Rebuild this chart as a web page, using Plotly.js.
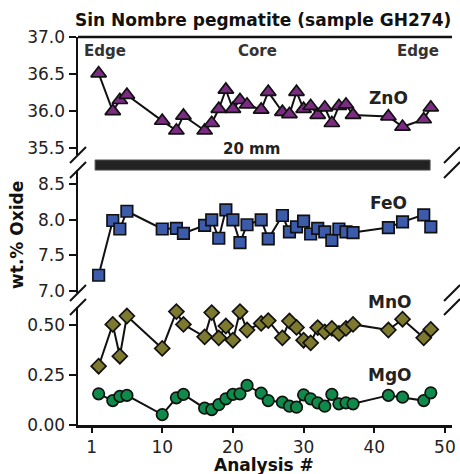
<!DOCTYPE html>
<html>
<head>
<meta charset="utf-8">
<script src="https://cdn.plot.ly/plotly-3.0.1.min.js"></script>
<style>html,body{margin:0;padding:0;background:#fff;}#chart{width:460px;height:474px;}</style>
</head>
<body>
<div id="chart"></div>
<script>
// Analysis numbers
const analysis = [1,3,4,5,10,12,13,16,17,18,19,20,21,22,24,25,27,28,29,30,31,32,33,34,35,36,37,42,44,47,48];
// wt.% oxide values
const zno = [36.51,36.00,36.15,36.22,35.87,35.74,35.94,35.74,35.84,36.03,36.29,36.03,36.15,36.09,36.02,36.26,35.99,35.96,36.26,36.03,36.07,35.95,36.05,35.84,36.07,36.09,35.95,35.93,35.79,35.89,36.05];
const feo = [7.22,7.99,7.87,8.12,7.87,7.88,7.81,7.92,8.00,7.74,8.14,8.00,7.68,7.93,8.00,7.73,8.06,7.83,7.90,7.98,7.80,7.88,7.83,7.71,7.87,7.83,7.82,7.89,7.97,8.07,7.90];
const mno = [0.294,0.503,0.344,0.545,0.383,0.567,0.503,0.441,0.562,0.436,0.495,0.424,0.567,0.475,0.508,0.522,0.436,0.520,0.488,0.424,0.411,0.487,0.466,0.483,0.458,0.483,0.503,0.475,0.529,0.436,0.478];
const mgo = [0.156,0.122,0.143,0.148,0.052,0.136,0.153,0.084,0.077,0.102,0.131,0.153,0.156,0.198,0.159,0.122,0.114,0.094,0.089,0.151,0.131,0.111,0.094,0.153,0.106,0.111,0.106,0.148,0.139,0.122,0.161];
// x tick positions and labels
const xTickVals = [0,10,20,30,40,50];
const xTickText = ['1','10','20','30','40','50'];
// scale bar extent (analysis units)
const barStart = 0.5, barEnd = 47.9;

const FONT = 'DejaVu Sans, sans-serif';
const lineStyle = {color:'#111', width:2};
function tr(y, yaxis, sym, col, size){
  return {x:analysis, y:y, yaxis:yaxis, xaxis:'x', type:'scatter', mode:'lines+markers',
    line:lineStyle, marker:{symbol:sym, color:col, size:size, line:{color:'#111', width:1.7}},
    hoverinfo:'x+y', showlegend:false, cliponaxis:false};
}
const traces = [
  tr(zno,'y3','triangle-up','#7B2C82',13.5),
  tr(feo,'y2','square','#3C5BAA',11.5),
  tr(mno,'y','diamond','#7D7A30',11.5),
  tr(mgo,'y','circle','#0F8A4A',11.5)
];

const domB=[0,0.3041], domM=[0.3402,0.6572], domT=[0.6959,1];
const rB=[0,0.59], rM=[6.97,8.70], rT=[35.41,37.001];
function yax(dom, rng, dtick, fmt){
  return {domain:dom, range:rng, dtick:dtick, tick0:0, tickformat:fmt, anchor:'x',
    showline:true, linecolor:'#111', linewidth:2.5, ticks:'outside', ticklen:7, tickwidth:2, tickcolor:'#111',
    showgrid:false, zeroline:false, tickfont:{family:FONT, size:17, color:'#222'}, fixedrange:true};
}
function yr(ov, rng, dtick){
  return {overlaying:ov, side:'right', anchor:'x', range:rng, dtick:dtick, tick0:0,
    showline:true, linecolor:'#111', linewidth:2.5, ticks:'inside', ticklen:6, tickwidth:2, tickcolor:'#111',
    showticklabels:false, showgrid:false, zeroline:false, fixedrange:true};
}

const W=374, H=388;
const dx=8/W, dy=8/H;
const shapes=[];
[0.6959,0.6572,0.3402,0.3041].forEach(yc=>{
  [0,1].forEach(xc=>{
    shapes.push({type:'line', xref:'paper', yref:'paper', x0:xc-dx, x1:xc+dx, y0:yc-dy, y1:yc+dy, line:{color:'#111', width:2}});
  });
});
shapes.push({type:'line', xref:'paper', yref:'paper', x0:0, x1:1, y0:1, y1:1, line:{color:'#111', width:2.5}});
shapes.push({type:'rect', xref:'x', yref:'paper', x0:barStart, x1:barEnd, y0:0.657, y1:0.683, fillcolor:'#222', line:{color:'#555', width:1}});

function ann(text, x, y, size, color, extra){
  return Object.assign({text:'<b>'+text+'</b>', xref:'paper', yref:'paper', x:x, y:y, xanchor:'center', yanchor:'middle',
    showarrow:false, font:{family:FONT, size:size, color:color}}, extra||{});
}
const annotations=[
  ann('Edge',0.073,0.9647,15,'#333'),
  ann('Core',0.4794,0.9647,15,'#333'),
  ann('Edge',0.9099,0.9647,15,'#333'),
  ann('ZnO',0.8297,0.842,17,'#222'),
  ann('FeO',0.8297,0.5714,17,'#222'),
  ann('MnO',0.8342,0.3178,17,'#222'),
  ann('MgO',0.8342,0.1289,17,'#222'),
  ann('20 mm',0.4644,0.7106,15,'#222'),
  ann('wt.% Oxide',-0.163,0.49,17,'#111',{textangle:-90}),
  ann('Analysis #',0.497,-0.103,17,'#111')
];

const layout = {
  width:460, height:474,
  margin:{l:78, r:8, t:37, b:49},
  paper_bgcolor:'#fff', plot_bgcolor:'#fff',
  title:{text:'<b>Sin Nombre pegmatite (sample GH274)</b>', font:{family:FONT, size:17, color:'#111'},
    xref:'paper', x:0.495, xanchor:'center', yref:'container', y:0.958, yanchor:'middle'},
  xaxis:{range:[-1.92,51.0], tickvals:xTickVals, ticktext:xTickText, anchor:'y',
    showline:true, linecolor:'#111', linewidth:2.5, ticks:'outside', ticklen:5, tickwidth:2, tickcolor:'#111',
    showgrid:false, zeroline:false, tickfont:{family:FONT, size:17, color:'#222'}, fixedrange:true},
  yaxis:yax(domB, rB, 0.25, '.2f'),
  yaxis2:yax(domM, rM, 0.5, '.1f'),
  yaxis3:yax(domT, rT, 0.5, '.1f'),
  yaxis4:yr('y', rB, 0.25),
  yaxis5:yr('y2', rM, 0.5),
  yaxis6:yr('y3', rT, 0.5),
  shapes:shapes,
  annotations:annotations,
  showlegend:false
};
Plotly.newPlot('chart', traces, layout, {displayModeBar:false, staticPlot:true});
</script>
</body>
</html>
